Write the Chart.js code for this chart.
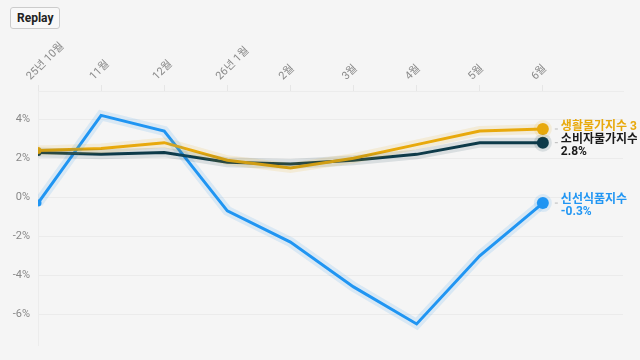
<!DOCTYPE html>
<html>
<head>
<meta charset="utf-8">
<script src="https://cdn.jsdelivr.net/npm/chart.js@4.4.1/dist/chart.umd.min.js"></script>
<style>
  html, body { margin: 0; padding: 0; background: #f5f5f5; }
  #wrap { position: relative; width: 640px; height: 360px; }
  #replay {
    position: absolute; left: 10px; top: 7px; height: 22px; padding: 0 6px;
    font: bold 12px Roboto, "Noto Sans", sans-serif; color: #222;
    background: #f8f8f8; border: 1px solid #ccc; border-radius: 3px;
  }
</style>
</head>
<body>
<div id="wrap">
  <canvas id="chart" width="640" height="360"></canvas>
  <button id="replay">Replay</button>
</div>
<script>
// --- data ---
const months = ['25년 10월', '11월', '12월', '26년 1월', '2월', '3월', '4월', '5월', '6월'];
const living = [2.4, 2.5, 2.8, 1.9, 1.5, 2.0, 2.7, 3.4, 3.5];     // 생활물가지수
const consumer = [2.3, 2.2, 2.3, 1.8, 1.7, 1.9, 2.2, 2.8, 2.8];   // 소비자물가지수
const fresh = [-0.3, 4.2, 3.4, -0.7, -2.3, -4.6, -6.5, -3.0, -0.3]; // 신선식품지수
const yTicks = [-6, -4, -2, 0, 2, 4];

const FONT = 'Roboto, "Noto Sans CJK KR", "Noto Sans", sans-serif';
const series = [
  { name: '생활물가지수', data: living, color: '#e8a90c', glow: 'rgba(232,169,12,0.13)', text: '#e8a90c', oneLine: true },
  { name: '소비자물가지수', data: consumer, color: '#0d3b49', glow: 'rgba(13,59,73,0.12)', text: '#1a1a1a' },
  { name: '신선식품지수', data: fresh, color: '#2196f3', glow: 'rgba(33,150,243,0.13)', text: '#2196f3' }
];

const toPts = arr => arr.map((v, i) => ({ x: i, y: v }));
const lastIdx = months.length - 1;

const datasets = [];
// glow underlays
series.forEach(s => {
  datasets.push({
    data: toPts(s.data), borderColor: s.glow, borderWidth: 10,
    pointRadius: months.map((m, i) => i === lastIdx ? 9 : 0),
    pointBackgroundColor: s.glow, pointBorderWidth: 0,
    tension: 0, isGlow: true
  });
});
series.forEach(s => {
  datasets.push({
    label: s.name, data: toPts(s.data), borderColor: s.color, borderWidth: 3,
    pointRadius: months.map((m, i) => i === 0 ? 3.5 : (i === lastIdx ? 6 : 0)),
    pointBackgroundColor: s.color, pointBorderWidth: 0,
    tension: 0, meta: s
  });
});

// labels at line ends
const endLabels = {
  id: 'endLabels',
  afterDatasetsDraw(chart) {
    const ctx = chart.ctx;
    ctx.save();
    // the long label runs off the right edge in the original
    ctx.beginPath(); ctx.rect(0, 0, 637, chart.height); ctx.clip();
    chart.data.datasets.forEach((ds, di) => {
      if (ds.isGlow) return;
      const s = ds.meta;
      const pt = chart.getDatasetMeta(di).data[lastIdx];
      const x = pt.x + 18, y = pt.y;
      ctx.strokeStyle = '#bbb';
      ctx.lineWidth = 1;
      ctx.beginPath(); ctx.moveTo(pt.x + 12, y); ctx.lineTo(pt.x + 15, y); ctx.stroke();
      ctx.fillStyle = s.text;
      ctx.font = 'bold 12px ' + FONT;
      ctx.textBaseline = 'middle';
      const val = s.data[lastIdx].toFixed(1) + '%';
      if (s.oneLine) {
        ctx.fillText(s.name + ' ' + val, x, y - 2);
      } else {
        ctx.fillText(s.name, x, y - 3);
        ctx.fillText(val, x, y + 9);
      }
    });
    ctx.restore();
  }
};

new Chart(document.getElementById('chart'), {
  type: 'line',
  data: { datasets },
  plugins: [endLabels],
  options: {
    responsive: false,
    animation: false,
    layout: { padding: { left: 0, right: 17, top: 0, bottom: 6 } },
    plugins: { legend: { display: false }, tooltip: { enabled: false } },
    scales: {
      x: {
        type: 'linear', position: 'top', min: 0, max: 9.27,
        afterBuildTicks: axis => { axis.ticks = months.map((m, i) => ({ value: i })); },
        afterFit: axis => { axis.height = 91; },
        grid: { drawOnChartArea: false, color: '#e6e6e6', tickLength: 6 },
        border: { color: '#ececec' },
        ticks: {
          callback: v => months[v], color: '#8a8a8a', padding: 2,
          maxRotation: 45, minRotation: 45, autoSkip: false,
          font: { family: FONT, size: 11 }
        }
      },
      y: {
        min: -7.6, max: 5.45,
        afterBuildTicks: axis => { axis.ticks = yTicks.map(v => ({ value: v })); },
        afterFit: axis => { axis.width = 38; },
        grid: { color: '#ebebeb', drawTicks: false },
        border: { color: '#ececec' },
        ticks: {
          callback: v => v + '%', color: '#888', padding: 8,
          font: { family: FONT, size: 11 }
        }
      }
    }
  }
});
</script>
</body>
</html>
